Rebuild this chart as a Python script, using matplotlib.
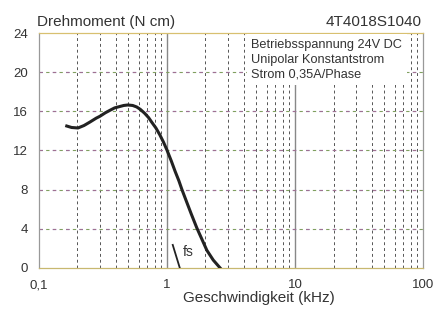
import matplotlib.pyplot as plt
import numpy as np

# Drehmomentkurve (kHz, N cm)
freq = [0.165, 0.18, 0.202, 0.225, 0.25, 0.28, 0.30, 0.33, 0.358, 0.39, 0.43, 0.46, 0.495,
        0.54, 0.58, 0.62, 0.67, 0.72, 0.76, 0.82, 0.88, 0.94, 1.0, 1.08, 1.16, 1.24, 1.31,
        1.42, 1.55, 1.71, 1.88, 2.05, 2.3, 2.6]
torque = [14.5, 14.35, 14.3, 14.55, 14.9, 15.3, 15.5, 15.85, 16.1, 16.35, 16.5, 16.6, 16.65,
          16.6, 16.45, 16.2, 15.8, 15.35, 14.9, 14.3, 13.6, 12.85, 12.05, 10.95, 9.85, 8.9, 8.0,
          6.8, 5.5, 4.1, 2.9, 1.8, 0.8, 0.0]
# Start-Stopp-Frequenz fs
fs_freq = [1.11, 1.26]
fs_torque = [2.35, 0.0]

yticks = [0, 4, 8, 12, 16, 20, 24]
xticks = [0.1, 1, 10, 100]
xticklabels = ["0,1", "1", "10", "100"]
info = ["Betriebsspannung 24V DC", "Unipolar Konstantstrom", "Strom 0,35A/Phase"]

plt.rcParams['font.family'] = ['Liberation Sans', 'DejaVu Sans']

fig = plt.figure(figsize=(4.37, 3.09), dpi=100)
ax = fig.add_axes([0.089, 0.133, 0.879, 0.760])
ax.set_xscale('log')
ax.set_xlim(0.1, 100)
ax.set_ylim(0, 24)

# Gitter: senkrecht gestrichelt, waagerecht bunt gestrichelt
for dec in [0.1, 1, 10]:
    for k in range(2, 10):
        ax.axvline(dec * k, color='#555555', lw=0.7, ls=(0, (3, 3)), zorder=1)
ax.axvline(1, color='#888888', lw=1.0, zorder=1)
ax.axvline(10, color='#888888', lw=1.0, zorder=1)
for y in yticks[1:-1]:
    ax.axhline(y, color='#6a6ab0', lw=0.8, ls=(0, (3, 9)), zorder=1)
    ax.axhline(y, color='#80a060', lw=0.8, ls=(6, (3, 9)), zorder=1)
    ax.axhline(y, color='#a07090', lw=0.8, ls=(12, (3, 9)), zorder=1)

ax.plot(freq, torque, color='#222222', lw=2.2, zorder=3)
ax.plot(fs_freq, fs_torque, color='#222222', lw=1.3, zorder=3)
ax.text(1.33, 1.2, "fs", fontsize=10, color='#333333', zorder=3)

ax.set_xticks(xticks)
ax.set_xticklabels(xticklabels)
ax.set_yticks(yticks)
ax.minorticks_off()
ax.tick_params(length=0, labelsize=9.5, colors='#333333', pad=8)
ax.tick_params(axis='x', pad=8)

for s in ['left', 'right']:
    ax.spines[s].set_color('#999999')
    ax.spines[s].set_linewidth(0.9)
ax.spines['top'].set_color('#d8c070')
ax.spines['bottom'].set_color('#c8b870')
ax.spines['top'].set_linewidth(0.9)
ax.spines['bottom'].set_linewidth(0.9)

# weisses Infofeld oben rechts
ax.text(0.553, 0.975, "\n".join(info), transform=ax.transAxes, ha='left', va='top',
        fontsize=9.2, color='#333333', linespacing=1.32, zorder=5,
        bbox=dict(boxstyle='square,pad=0.35', fc='white', ec='none'))

fig.text(0.085, 0.929, "Drehmoment (N cm)", fontsize=11, color='#333333', ha='left', va='center')
fig.text(0.965, 0.929, "4T4018S1040", fontsize=11, color='#333333', ha='right', va='center')
fig.text(0.593, 0.036, "Geschwindigkeit (kHz)", fontsize=11, color='#333333', ha='center', va='center')

fig.savefig("out.png", dpi=100)
